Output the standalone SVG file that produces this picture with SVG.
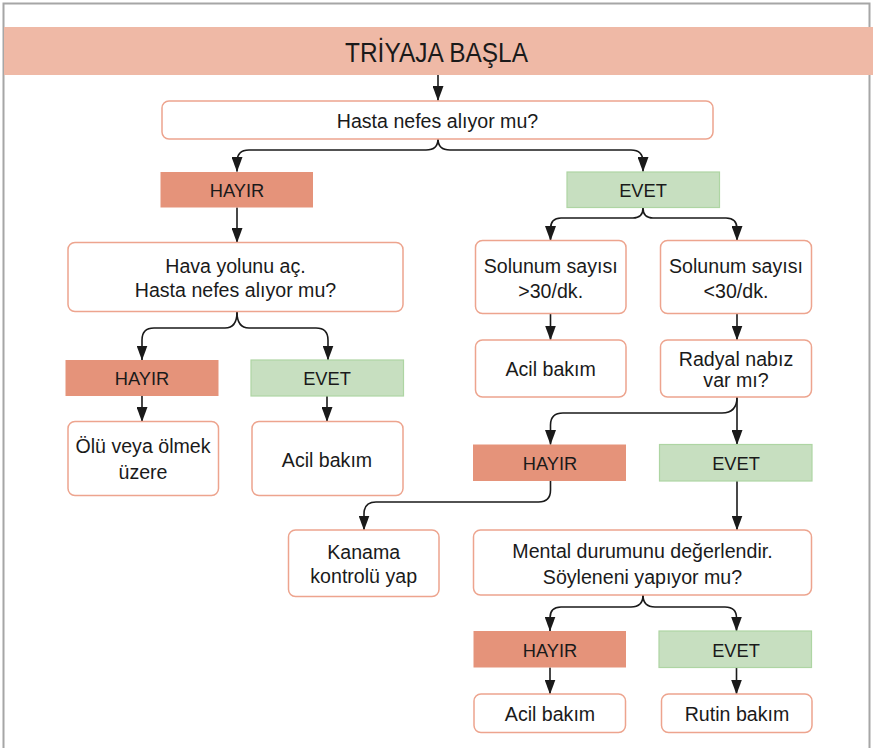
<svg xmlns="http://www.w3.org/2000/svg" width="873" height="748" viewBox="0 0 873 748">
<defs>
<style>
.box{fill:#ffffff;stroke:#EDA48E;stroke-width:1.5}
.no{fill:#E5937A}
.yes{fill:#C7DFC0;stroke:#AED5A3;stroke-width:1.2}
.t{font-family:"Liberation Sans",Arial,sans-serif;font-size:19.6px;fill:#1a1a1a;text-anchor:middle}
.l{font-family:"Liberation Sans",Arial,sans-serif;font-size:18.3px;fill:#1a1a1a;text-anchor:middle}
.c{fill:none;stroke:#1a1a1a;stroke-width:1.6;marker-end:url(#ah)}
</style>
<marker id="ah" markerUnits="userSpaceOnUse" markerWidth="15" markerHeight="11" viewBox="0 0 15 11" refX="14.5" refY="5.5" orient="auto">
<path d="M0,0 L15,5.5 L0,11 z" fill="#1a1a1a"/>
</marker>
</defs>
<rect x="0" y="0" width="873" height="748" fill="#ffffff"/>
<path d="M3.5,748 V3.5 H869.5 V748" fill="none" stroke="#A6A6A6" stroke-width="2"/>

<g id="header">
<rect x="4" y="27" width="869" height="48" fill="#EFB9A6"/>
<text x="436.5" y="62.3" textLength="183" lengthAdjust="spacingAndGlyphs" style="font-family:'Liberation Sans Narrow','Liberation Sans',Arial,sans-serif;font-size:28.5px;fill:#1a1a1a;text-anchor:middle">TRİYAJA BAŞLA</text>
</g>

<g id="connectors">
<path class="c" d="M438,75 V100.5"/>
<path class="c" d="M438,139 Q438,150 426,150 H249 Q237,150 237,162 V171.5"/>
<path class="c" d="M438,139 Q438,150 450,150 H631 Q643,150 643,162 V171.5"/>
<path class="c" d="M237,207.5 V242.5"/>
<path class="c" d="M643,208 Q643,218 633,218 H561 Q550.5,218 550.5,229 V240.5"/>
<path class="c" d="M643,208 Q643,218 653,218 H726 Q737,218 737,229 V240.5"/>
<path class="c" d="M237,312 Q237,328 225,328 H154 Q142,328 142,340 V360"/>
<path class="c" d="M237,312 Q237,328 249,328 H316 Q328,328 328,340 V360"/>
<path class="c" d="M142,396 V421.5"/>
<path class="c" d="M327,396 V421.5"/>
<path class="c" d="M550.5,314 V340"/>
<path class="c" d="M737,314 V340"/>
<path class="c" d="M737,397 V444.5"/>
<path class="c" d="M737,397 Q737,413 722,413 H563 Q550.5,413 550.5,425 V444.5"/>
<path class="c" d="M550.5,481 V490 Q550.5,502 538.5,502 H376 Q364,502 364,514 V530"/>
<path class="c" d="M737,481 V530"/>
<path class="c" d="M643,595 Q643,607 631,607 H561 Q550,607 550,618 V631"/>
<path class="c" d="M643,595 Q643,607 655,607 H725 Q736.5,607 736.5,618 V631"/>
<path class="c" d="M550,667.5 V694"/>
<path class="c" d="M736.5,667.5 V694"/>
</g>

<g id="n-hasta">
<rect class="box" x="162" y="101" width="551" height="38" rx="7"/>
<text class="t" x="437.5" y="128.3">Hasta nefes alıyor mu?</text>
</g>
<g id="n-hayir1">
<rect class="no" x="160.5" y="172" width="152.5" height="35.5"/>
<text class="l" x="237" y="196.5">HAYIR</text>
</g>
<g id="n-evet1">
<rect class="yes" x="567" y="172" width="152.5" height="35.5"/>
<text class="l" x="643" y="196.5">EVET</text>
</g>
<g id="n-hava">
<rect class="box" x="68" y="242.5" width="335" height="69" rx="7"/>
<text class="t" x="235.5" y="273.3">Hava yolunu aç.</text>
<text class="t" x="235.5" y="297.3">Hasta nefes alıyor mu?</text>
</g>
<g id="n-hayir2">
<rect class="no" x="65.5" y="360" width="153" height="36"/>
<text class="l" x="142" y="385.2">HAYIR</text>
</g>
<g id="n-evet2">
<rect class="yes" x="251" y="360" width="152.5" height="36"/>
<text class="l" x="327" y="385.2">EVET</text>
</g>
<g id="n-olu">
<rect class="box" x="68" y="421.5" width="150.5" height="74" rx="7"/>
<text class="t" x="143" y="453.3">Ölü veya ölmek</text>
<text class="t" x="143" y="479.3">üzere</text>
</g>
<g id="n-acil1">
<rect class="box" x="252" y="421.5" width="151" height="74" rx="7"/>
<text class="t" x="327" y="466.7">Acil bakım</text>
</g>
<g id="n-sol1">
<rect class="box" x="475.5" y="240.5" width="150.5" height="73" rx="7"/>
<text class="t" x="550.7" y="273.3">Solunum sayısı</text>
<text class="t" x="550.7" y="298.3">&gt;30/dk.</text>
</g>
<g id="n-sol2">
<rect class="box" x="660.5" y="240.5" width="151" height="73" rx="7"/>
<text class="t" x="736" y="273.3">Solunum sayısı</text>
<text class="t" x="736" y="298.3">&lt;30/dk.</text>
</g>
<g id="n-acil2">
<rect class="box" x="475.5" y="340" width="150.5" height="57" rx="7"/>
<text class="t" x="550.7" y="375.7">Acil bakım</text>
</g>
<g id="n-radyal">
<rect class="box" x="660.5" y="340" width="151" height="57" rx="7"/>
<text class="t" x="736" y="365.7">Radyal nabız</text>
<text class="t" x="736" y="386.7">var mı?</text>
</g>
<g id="n-hayir3">
<rect class="no" x="473" y="444.5" width="153" height="36.5"/>
<text class="l" x="550" y="470.2">HAYIR</text>
</g>
<g id="n-evet3">
<rect class="yes" x="659.5" y="444.5" width="152.5" height="36.5"/>
<text class="l" x="736" y="470.2">EVET</text>
</g>
<g id="n-kanama">
<rect class="box" x="288.5" y="530" width="150.5" height="66.5" rx="7"/>
<text class="t" x="363.7" y="559">Kanama</text>
<text class="t" x="363.7" y="583.3">kontrolü yap</text>
</g>
<g id="n-mental">
<rect class="box" x="473.5" y="530" width="338" height="65" rx="7"/>
<text class="t" x="642.5" y="558.3">Mental durumunu değerlendir.</text>
<text class="t" x="642.5" y="584.3">Söyleneni yapıyor mu?</text>
</g>
<g id="n-hayir4">
<rect class="no" x="473.5" y="631" width="152.5" height="36.5"/>
<text class="l" x="550" y="656.5">HAYIR</text>
</g>
<g id="n-evet4">
<rect class="yes" x="659" y="631" width="152.5" height="36.5"/>
<text class="l" x="736" y="656.5">EVET</text>
</g>
<g id="n-acil3">
<rect class="box" x="474" y="694" width="151.5" height="38.5" rx="7"/>
<text class="t" x="550" y="720.7">Acil bakım</text>
</g>
<g id="n-rutin">
<rect class="box" x="661.5" y="694" width="150.5" height="38.5" rx="7"/>
<text class="t" x="737" y="720.7">Rutin bakım</text>
</g>
</svg>
